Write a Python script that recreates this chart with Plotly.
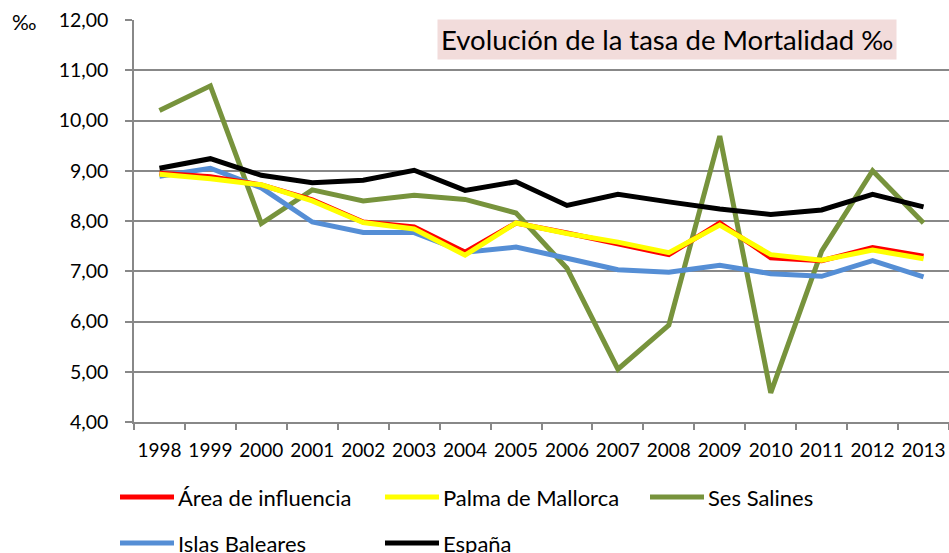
import plotly.graph_objects as go

years = ["1998", "1999", "2000", "2001", "2002", "2003", "2004", "2005",
         "2006", "2007", "2008", "2009", "2010", "2011", "2012", "2013"]

area_influencia = [8.95, 8.88, 8.72, 8.42, 7.98, 7.88, 7.38, 7.96,
                   7.76, 7.55, 7.33, 7.96, 7.27, 7.21, 7.47, 7.30]
palma = [8.93, 8.84, 8.72, 8.40, 7.97, 7.84, 7.32, 7.96,
         7.75, 7.58, 7.37, 7.92, 7.33, 7.22, 7.42, 7.25]
ses_salines = [10.20, 10.69, 7.95, 8.62, 8.40, 8.51, 8.43, 8.16,
               7.06, 5.05, 5.93, 9.69, 4.58, 7.40, 9.00, 7.96]
islas_baleares = [8.89, 9.05, 8.66, 7.98, 7.77, 7.77, 7.38, 7.48,
                  7.26, 7.03, 6.98, 7.12, 6.95, 6.90, 7.21, 6.89]
espana = [9.05, 9.24, 8.91, 8.76, 8.81, 9.01, 8.61, 8.78,
          8.31, 8.53, 8.38, 8.24, 8.13, 8.22, 8.53, 8.28]

series = [
    ("Área de influencia", area_influencia, "#FF0000"),
    ("Palma de Mallorca", palma, "#FFFF00"),
    ("Ses Salines", ses_salines, "#77933C"),
    ("Islas Baleares", islas_baleares, "#558ED5"),
    ("España", espana, "#000000"),
]
draw_order = ["Ses Salines", "Islas Baleares", "Área de influencia", "Palma de Mallorca", "España"]

W, H = 949, 553
L, R, T, B = 134, 949, 20, 422
FONT = "Lato"

fig = go.Figure()
lookup = {n: (v, c) for n, v, c in series}
for name in draw_order:
    vals, col = lookup[name]
    fig.add_trace(go.Scatter(x=years, y=vals, mode="lines", name=name,
                             line=dict(color=col, width=5), showlegend=False))

def px(x):
    return (x - L) / (R - L)

def py(y):
    return (B - y) / (B - T)

shapes = []
annotations = []
legend_items = [
    ("Área de influencia", "#FF0000", 120, 497),
    ("Palma de Mallorca", "#FFFF00", 385, 497),
    ("Ses Salines", "#77933C", 650, 497),
    ("Islas Baleares", "#558ED5", 120, 543),
    ("España", "#000000", 385, 543),
]
for name, col, x0, yy in legend_items:
    shapes.append(dict(type="line", xref="paper", yref="paper",
                       x0=px(x0), x1=px(x0 + 54), y0=py(yy), y1=py(yy),
                       line=dict(color=col, width=5)))
    annotations.append(dict(text=name, xref="paper", yref="paper",
                            x=px(x0 + 56), y=py(yy), xanchor="left", yanchor="middle",
                            showarrow=False, font=dict(size=22, color="#000000", family=FONT)))

annotations.append(dict(text="Evolución de la tasa de Mortalidad ‰", xref="paper", yref="paper",
                        x=px(437), y=py(39.5), xanchor="left", yanchor="middle",
                        showarrow=False, bgcolor="#F2DCDB", borderpad=3,
                        font=dict(size=27.5, color="#000000", family=FONT)))
annotations.append(dict(text="‰", xref="paper", yref="paper",
                        x=px(24), y=py(22), xanchor="center", yanchor="middle",
                        showarrow=False, font=dict(size=21, color="#000000", family=FONT)))

fig.update_layout(
    width=W, height=H,
    margin=dict(l=L, r=W - R, t=T, b=H - B),
    paper_bgcolor="white", plot_bgcolor="white",
    separators=",.",
    font=dict(family=FONT, size=20, color="#000000"),
    shapes=shapes, annotations=annotations,
    showlegend=False,
)
fig.update_yaxes(range=[4, 12], dtick=1, tickformat=".2f",
                 showgrid=True, gridcolor="#888888", gridwidth=1.5,
                 showline=True, linecolor="#888888", linewidth=1.5,
                 ticks="outside", ticklen=7, tickcolor="#888888", tickwidth=1.5,
                 zeroline=False, ticklabelstandoff=13,
                 tickfont=dict(size=19.5, family=FONT))
fig.update_xaxes(type="category", tickson="boundaries", range=[-0.5, 15.5],
                 showgrid=False, showline=True, linecolor="#888888", linewidth=1.5,
                 ticks="outside", ticklen=6, tickcolor="#888888", tickwidth=1.5,
                 ticklabelstandoff=10, tickangle=0,
                 tickfont=dict(size=19, family=FONT))

fig.write_html("out.html", config={"displayModeBar": False},
               post_script="document.body.style.margin='0';document.body.style.overflow='hidden';")
